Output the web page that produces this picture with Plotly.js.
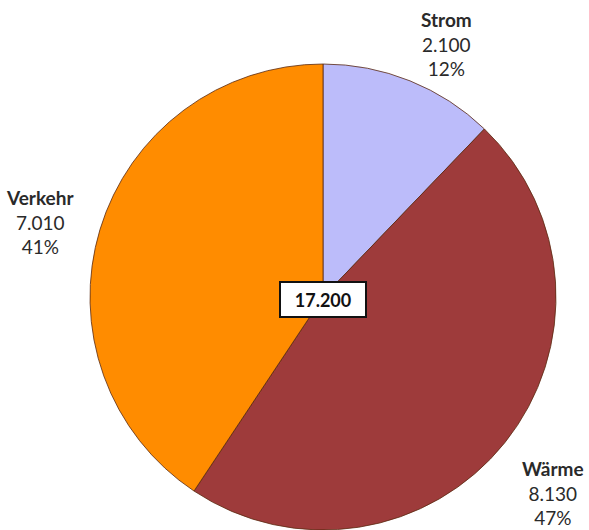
<!DOCTYPE html>
<html>
<head>
<meta charset="utf-8">
<script src="https://cdn.plot.ly/plotly-3.0.1.min.js"></script>
<style>html,body{margin:0;padding:0;background:#fff;}#chart{width:589px;height:530px;}</style>
</head>
<body>
<div id="chart"></div>
<script>
const categories = ["Strom", "Wärme", "Verkehr"];
const values = [2100, 8130, 7010];
const valueLabels = ["2.100", "8.130", "7.010"];
const percentLabels = ["12%", "47%", "41%"];
const totalLabel = "17.200";

const colors = ["#BCBCFA", "#9E3B3B", "#FF8C00"];
const W = 589, H = 530;
const cx = 323, cy = 298, r = 234;
const px = x => x / W;
const py = y => 1 - y / H;

// label anchor positions (pixels)
const labelPos = [[447, 44], [553, 493], [40, 222]];

const annotations = categories.map((c, i) => ({
  x: px(labelPos[i][0]), y: py(labelPos[i][1]), xref: 'paper', yref: 'paper',
  xanchor: 'center', yanchor: 'middle', showarrow: false, align: 'center',
  text: '<b>' + c + '</b><br>' + valueLabels[i] + '<br>' + percentLabels[i],
  font: {family: 'Lato, "Open Sans", sans-serif', size: 19, color: '#2a2a2a'}
}));
annotations.push({
  x: px(cx), y: py(cy + 1), xref: 'paper', yref: 'paper', xanchor: 'center', yanchor: 'middle',
  showarrow: false, text: '<b>' + totalLabel + '</b>',
  font: {family: 'Lato, "Open Sans", sans-serif', size: 18, color: '#111'},
  bgcolor: '#ffffff', bordercolor: '#111', borderwidth: 2, borderpad: 5, width: 74, height: 23
});

const data = [{
  type: 'pie', labels: categories, values: values, sort: false,
  direction: 'clockwise', rotation: 0, textinfo: 'none', hoverinfo: 'none',
  marker: {colors: colors, line: {color: '#5a2a10', width: 0.8}},
  domain: {x: [px(cx - r), px(cx + r)], y: [py(cy + r), py(cy - r)]}
}];

const layout = {
  width: W, height: H, margin: {l: 0, r: 0, t: 0, b: 0},
  paper_bgcolor: '#fff', plot_bgcolor: '#fff', showlegend: false,
  annotations: annotations
};
Plotly.newPlot('chart', data, layout, {displayModeBar: false, staticPlot: true});
</script>
</body>
</html>
